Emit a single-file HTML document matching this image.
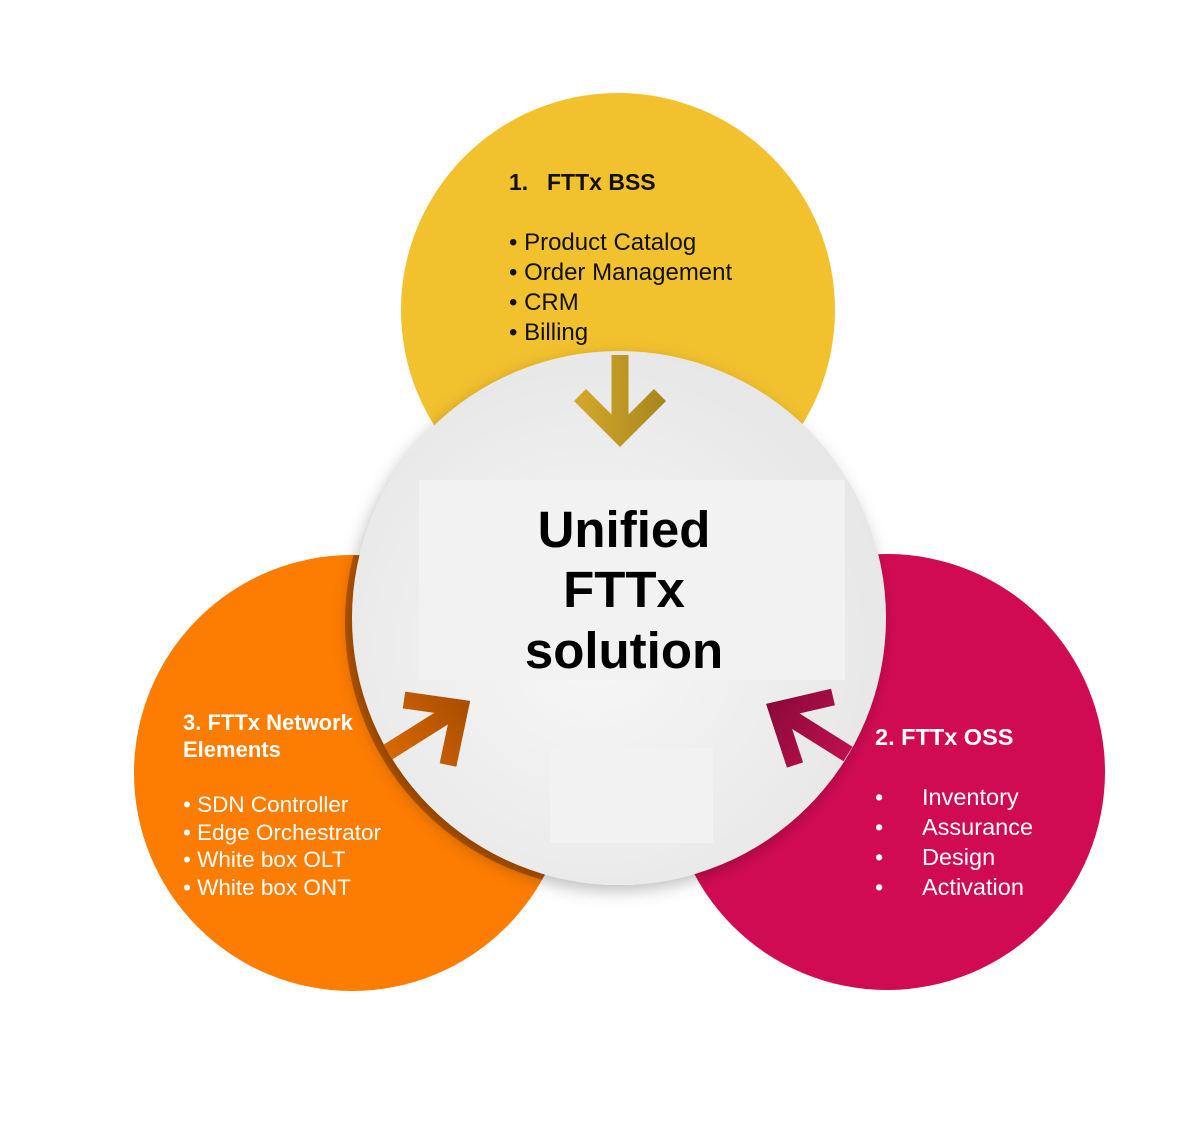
<!DOCTYPE html>
<html><head><style>
body{margin:0;background:#fff;width:1198px;height:1125px;overflow:hidden}
svg{display:block}
text{font-family:"Liberation Sans",Arial,sans-serif}
</style></head><body>
<svg width="1198" height="1125" viewBox="0 0 1198 1125">
<defs>
<radialGradient id="cg" cx="0.45" cy="0.55" r="0.6">
<stop offset="0" stop-color="#f7f7f7"/><stop offset="1" stop-color="#e6e6e6"/>
</radialGradient>
<filter id="sh" x="-20%" y="-20%" width="140%" height="140%">
<feDropShadow dx="-3" dy="6" stdDeviation="8" flood-color="#000" flood-opacity="0.25"/>
</filter>
<clipPath id="oc"><circle cx="352" cy="773" r="218"/></clipPath>
<linearGradient id="yg" gradientUnits="userSpaceOnUse" x1="575" y1="0" x2="665" y2="0"><stop offset="0" stop-color="#d4a82a"/><stop offset="1" stop-color="#a8861e"/></linearGradient>
<linearGradient id="og" gradientUnits="userSpaceOnUse" x1="385" y1="760" x2="470" y2="700"><stop offset="0" stop-color="#d96a00"/><stop offset="1" stop-color="#a84c00"/></linearGradient>
<linearGradient id="mg" gradientUnits="userSpaceOnUse" x1="850" y1="760" x2="770" y2="700"><stop offset="0" stop-color="#c0104f"/><stop offset="1" stop-color="#8a0a38"/></linearGradient>
</defs>
<circle cx="618" cy="310" r="217" fill="#f2c12e"/>
<circle cx="352" cy="773" r="218" fill="#fd7c02"/>
<circle cx="887" cy="772" r="218" fill="#d10b53"/>
<circle cx="612" cy="622" r="267" fill="#b85600" clip-path="url(#oc)"/>
<circle cx="619" cy="618" r="267" fill="url(#cg)" filter="url(#sh)"/>
<rect x="419" y="480" width="426" height="200" fill="#f2f2f2"/>
<rect x="550" y="748" width="163" height="95" fill="#f2f2f2"/>
<line x1="620" y1="355" x2="620" y2="432" stroke="url(#yg)" stroke-width="17"/>
<polyline points="580,395 620,435 660,395" fill="none" stroke="url(#yg)" stroke-width="17"/>
<line x1="388" y1="752" x2="458" y2="708" stroke="url(#og)" stroke-width="17"/>
<polyline points="404,700 460,708 448,765" fill="none" stroke="url(#og)" stroke-width="17"/>
<line x1="848" y1="754" x2="778" y2="710" stroke="url(#mg)" stroke-width="17"/>
<polyline points="833,697 777,710 795,765" fill="none" stroke="url(#mg)" stroke-width="17"/>
<g font-weight="bold" font-size="51" text-anchor="middle" fill="#000">
<text x="624" y="547">Unified</text><text x="624" y="607">FTTx</text><text x="624" y="668">solution</text>
</g>
<g font-size="24" fill="#111">
<text x="509" y="190" font-weight="bold" font-size="23">1.</text>
<text x="547" y="190" font-weight="bold" font-size="23">FTTx BSS</text>
<text x="509" y="250">• Product Catalog</text>
<text x="509" y="280">• Order Management</text>
<text x="509" y="310">• CRM</text>
<text x="509" y="340">• Billing</text>
</g>
<g font-size="22.5" fill="#fff">
<text x="183" y="730" font-weight="bold" font-size="22">3. FTTx Network</text>
<text x="183" y="757" font-weight="bold" font-size="22">Elements</text>
<text x="183" y="812">• SDN Controller</text>
<text x="183" y="840">• Edge Orchestrator</text>
<text x="183" y="867">• White box OLT</text>
<text x="183" y="895">• White box ONT</text>
</g>
<g font-size="23.5" fill="#fff">
<text x="875" y="745" font-weight="bold" font-size="23.5">2. FTTx OSS</text>
<text x="875" y="805">•</text><text x="922" y="805">Inventory</text>
<text x="875" y="835">•</text><text x="922" y="835">Assurance</text>
<text x="875" y="865">•</text><text x="922" y="865">Design</text>
<text x="875" y="895">•</text><text x="922" y="895">Activation</text>
</g>
</svg>
</body></html>
